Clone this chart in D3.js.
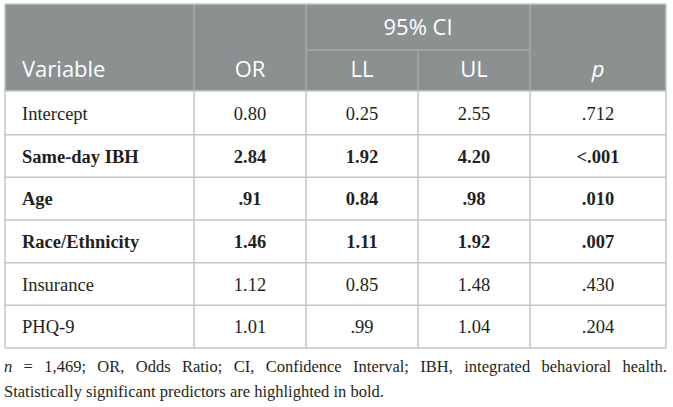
<!DOCTYPE html>
<html>
<head>
<meta charset="utf-8">
<script src="https://cdn.jsdelivr.net/npm/d3@7"></script>
<style>
  html, body { margin: 0; padding: 0; background: #fff; }
  svg { display: block; }
</style>
</head>
<body>
<div id="chart"></div>
<script>
// table values
const variables = ["Intercept", "Same-day IBH", "Age", "Race/Ethnicity", "Insurance", "PHQ-9"];
const orValues = ["0.80", "2.84", ".91", "1.46", "1.12", "1.01"];
const llValues = ["0.25", "1.92", "0.84", "1.11", "0.85", ".99"];
const ulValues = ["2.55", "4.20", ".98", "1.92", "1.48", "1.04"];
const pValues = [".712", "<.001", ".010", ".007", ".430", ".204"];
const significant = [false, true, true, true, false, false];
const columnLabels = ["Variable", "OR", "LL", "UL", "p"];
const groupLabel = "95% CI";
const noteLine1 = ["n", "=", "1,469;", "OR,", "Odds", "Ratio;", "CI,", "Confidence", "Interval;", "IBH,", "integrated", "behavioral", "health."];
const noteLine2 = "Statistically significant predictors are highlighted in bold.";

function init() {
    var w = 673;
    var h = 407;

    var headerFill = "#8b9091";
    var headerLine = "#a4a9aa";
    var gridColor = "#c4c4c4";
    var textColor = "#231f20";
    var sansFont = "'Open Sans', 'Noto Sans', sans-serif";
    var serifFont = "'Liberation Serif', 'DejaVu Serif', serif";

    // column edges: Variable | OR | LL | UL | p
    var edges = [5, 194, 306, 418, 530, 666];
    var top = 4, groupSplit = 50, headerBottom = 91, tableBottom = 348;

    var svg = d3.select("#chart").append("svg")
        .attr("width", w)
        .attr("height", h);

    var y = d3.scaleBand()
        .domain(variables)
        .range([headerBottom + 1, tableBottom]);

    var colCenter = i => (edges[i] + edges[i + 1]) / 2;

    // header block
    svg.append("rect")
        .attr("x", edges[0]).attr("y", top)
        .attr("width", edges[5] - edges[0]).attr("height", headerBottom - top)
        .attr("fill", headerFill);

    var hdr = svg.append("g").attr("stroke", headerLine).attr("stroke-width", 1.5);
    [1, 2, 4].forEach(i => {
        hdr.append("line").attr("x1", edges[i]).attr("x2", edges[i]).attr("y1", top).attr("y2", headerBottom);
    });
    hdr.append("line").attr("x1", edges[3]).attr("x2", edges[3]).attr("y1", groupSplit).attr("y2", headerBottom);
    hdr.append("line").attr("x1", edges[2]).attr("x2", edges[4]).attr("y1", groupSplit).attr("y2", groupSplit);

    // header text
    var headText = svg.append("g")
        .attr("fill", "#fff")
        .style("font-family", sansFont)
        .style("font-size", "22px");

    headText.append("text")
        .attr("x", (edges[2] + edges[4]) / 2)
        .attr("y", 35)
        .attr("text-anchor", "middle")
        .text(groupLabel);

    columnLabels.forEach((lab, i) => {
        headText.append("text")
            .attr("x", i === 0 ? 22 : colCenter(i))
            .attr("y", 77)
            .attr("text-anchor", i === 0 ? "start" : "middle")
            .style("font-style", lab === "p" ? "italic" : null)
            .text(lab);
    });

    // body grid
    var grid = svg.append("g").attr("stroke", gridColor).attr("stroke-width", 1.5).attr("fill", "none");
    variables.forEach(v => {
        grid.append("line")
            .attr("x1", edges[0]).attr("x2", edges[5])
            .attr("y1", y(v) + y.bandwidth()).attr("y2", y(v) + y.bandwidth());
    });
    grid.append("line").attr("x1", edges[0]).attr("x2", edges[5]).attr("y1", headerBottom).attr("y2", headerBottom);
    edges.forEach((x, i) => {
        grid.append("line")
            .attr("x1", x).attr("x2", x)
            .attr("y1", (i === 0 || i === 5) ? top : headerBottom)
            .attr("y2", tableBottom);
    });
    grid.append("line").attr("x1", edges[0]).attr("x2", edges[5]).attr("y1", top).attr("y2", top);

    // body text
    var cols = [variables, orValues, llValues, ulValues, pValues];
    var body = svg.append("g")
        .attr("fill", textColor)
        .style("font-family", serifFont)
        .style("font-size", "18.5px");

    variables.forEach((v, r) => {
        cols.forEach((col, c) => {
            body.append("text")
                .attr("x", c === 0 ? 22 : colCenter(c))
                .attr("y", y(v) + y.bandwidth() / 2 + 6.5)
                .attr("text-anchor", c === 0 ? "start" : "middle")
                .style("font-weight", significant[r] ? "bold" : "normal")
                .text(col[r]);
        });
    });

    // footnote, first line justified across the table width
    var note = svg.append("g")
        .attr("fill", textColor)
        .style("font-family", serifFont)
        .style("font-size", "16.5px");

    var words = note.selectAll("text.w")
        .data(noteLine1)
        .join("text")
        .attr("class", "w")
        .attr("y", 372)
        .style("font-style", (d, i) => i === 0 ? "italic" : null)
        .text(d => d);

    var widths = [];
    words.each(function () { widths.push(this.getComputedTextLength()); });
    var left = 4, right = 667;
    var gap = (right - left - d3.sum(widths)) / (noteLine1.length - 1);
    var xs = [];
    widths.reduce((acc, wd) => { xs.push(acc); return acc + wd + gap; }, left);
    words.attr("x", (d, i) => xs[i]);

    note.append("text")
        .attr("x", 4)
        .attr("y", 397)
        .text(noteLine2);
}

window.onload = init;
</script>
</body>
</html>
